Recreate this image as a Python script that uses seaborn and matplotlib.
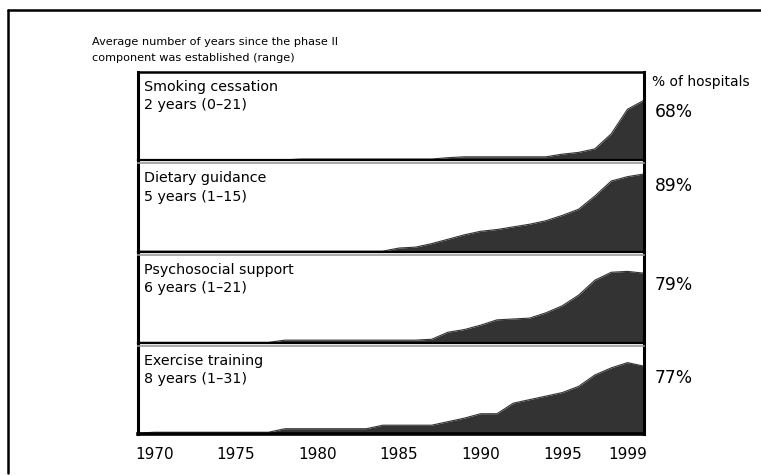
import matplotlib
matplotlib.use('Agg')
import matplotlib.pyplot as plt
from matplotlib.lines import Line2D
import numpy as np
import pandas as pd
import seaborn as sns

YEARS = list(range(1969, 2001))

SMOKING = [0.5] * 10 + [1.5] * 9 + [3, 4, 4, 4, 4, 4, 4,
                                   7, 9, 13, 30, 58, 68]
DIETARY = [0.5] * 16 + [4, 5, 9, 14, 19, 23, 25, 28, 31, 35,
                        41, 48, 63, 80, 85, 88]
PSYCHO = [0.5] * 9 + [3] * 9 + [4, 12, 15, 20, 26, 27, 28, 34,
                                42, 54, 71, 80, 81, 79]
EXERCISE = [1] + [2] * 8 + [6] * 6 + [10] * 4 + [14, 18, 23, 23, 35,
                                                  39, 43, 47, 54, 67,
                                                  75, 81, 77]

NAMES = ['Smoking cessation', 'Dietary guidance',
         'Psychosocial support', 'Exercise training']
SUBTITLES = ['2 years (0\u201321)', '5 years (1\u201315)',
             '6 years (1\u201321)', '8 years (1\u201331)']
PCT_LABELS = ['68%', '89%', '79%', '77%']
SERIES = [SMOKING, DIETARY, PSYCHO, EXERCISE]
XTICKS = [1970, 1975, 1980, 1985, 1990, 1995, 1999]

FILL = '#333333'

sns.set_style('white')
plt.rcParams['font.family'] = ['DejaVu Sans']
plt.rcParams['text.color'] = 'black'
plt.rcParams['xtick.color'] = 'black'

fig, axes = plt.subplots(4, 1, figsize=(7.61, 4.75), dpi=100, sharex=True)
fig.subplots_adjust(left=0.1813, right=0.846, top=0.848, bottom=0.0863,
                    hspace=0.035)

for i, ax in enumerate(axes):
    df = pd.DataFrame({'year': YEARS, 'pct': SERIES[i]})
    sns.lineplot(data=df, x='year', y='pct', ax=ax, color=FILL, lw=0.8)
    ax.fill_between(df['year'], 0, df['pct'], color=FILL, lw=0)
    ax.set_xlim(1969, 2000)
    ax.set_ylim(0, 100)
    ax.set_xlabel('')
    ax.set_ylabel('')
    ax.set_yticks([])
    for side in ['left', 'right']:
        ax.spines[side].set_linewidth(2.2)
        ax.spines[side].set_color('black')
    ax.spines['bottom'].set_linewidth(1.6)
    ax.spines['bottom'].set_color('black')
    if i == 0:
        ax.spines['top'].set_linewidth(1.8)
        ax.spines['top'].set_color('black')
    else:
        ax.spines['top'].set_linewidth(1.2)
        ax.spines['top'].set_color('#999999')
    ax.text(0.012, 0.91, NAMES[i] + '\n' + SUBTITLES[i], transform=ax.transAxes,
            va='top', ha='left', fontsize=10.3, linespacing=1.38)
    ax.annotate(PCT_LABELS[i], xy=(1, SERIES[i][-1]),
                xycoords=('axes fraction', 'data'),
                xytext=(11, -12), textcoords='offset pixels',
                ha='left', va='center', fontsize=12.3, annotation_clip=False)

axes[-1].spines['bottom'].set_linewidth(2.6)
axes[-1].set_xticks(XTICKS)
axes[-1].tick_params(axis='x', length=0, pad=9, labelsize=11)

fig.text(0.121, 0.912, 'Average number of years since the phase II',
         fontsize=8.1, va='center', ha='left')
fig.text(0.121, 0.878, 'component was established (range)',
         fontsize=8.1, va='center', ha='left')
fig.text(652 / 761, 1 - 82 / 475, '% of hospitals', fontsize=10,
         va='center', ha='left')

# outer frame (open on right and bottom)
fig.add_artist(Line2D([8 / 761, 8 / 761], [1 - 10 / 475, 1 - 473 / 475],
                      transform=fig.transFigure, color='black', lw=1.8))
fig.add_artist(Line2D([8 / 761, 1.0], [1 - 10 / 475, 1 - 10 / 475],
                      transform=fig.transFigure, color='black', lw=1.8))

plt.savefig('out.png', dpi=100)
